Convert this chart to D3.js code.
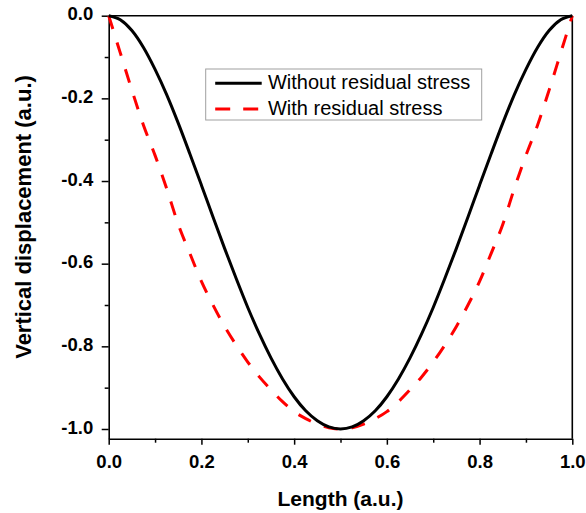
<!DOCTYPE html>
<html>
<head>
<meta charset="utf-8">
<script src="https://cdnjs.cloudflare.com/ajax/libs/d3/7.8.5/d3.min.js"></script>
<style>
  body { margin: 0; background: #fff; }
  svg text { font-family: Arial, "Liberation Sans", sans-serif; }
</style>
</head>
<body>
<script>
// positions along the beam (a.u.)
var lengthPts = [0, 0.025, 0.05, 0.075, 0.1, 0.125, 0.15, 0.175, 0.2, 0.225, 0.25,
  0.275, 0.3, 0.325, 0.35, 0.375, 0.4, 0.425, 0.45, 0.475, 0.5,
  0.525, 0.55, 0.575, 0.6, 0.625, 0.65, 0.675, 0.7, 0.725, 0.75,
  0.775, 0.8, 0.825, 0.85, 0.875, 0.9, 0.925, 0.95, 0.975, 1];

var withoutStress = [0, -0.010, -0.036, -0.077, -0.130, -0.191, -0.260, -0.334, -0.410, -0.487, -0.563,
  -0.636, -0.706, -0.770, -0.828, -0.879, -0.922, -0.956, -0.980, -0.995, -1.0,
  -0.995, -0.980, -0.956, -0.922, -0.879, -0.828, -0.770, -0.706, -0.636, -0.563,
  -0.487, -0.410, -0.334, -0.260, -0.191, -0.130, -0.077, -0.036, -0.010, 0];

var withStress = [0, -0.090, -0.180, -0.265, -0.338, -0.418, -0.505, -0.575, -0.643, -0.700, -0.752,
  -0.797, -0.838, -0.874, -0.905, -0.934, -0.958, -0.975, -0.988, -0.997, -1.0,
  -0.997, -0.988, -0.975, -0.958, -0.934, -0.905, -0.874, -0.838, -0.797, -0.752,
  -0.700, -0.643, -0.575, -0.505, -0.418, -0.338, -0.265, -0.180, -0.090, 0];

var xTicks = [0, 0.2, 0.4, 0.6, 0.8, 1.0];
var xMinor = [0.1, 0.3, 0.5, 0.7, 0.9];
var yTicks = [0, -0.2, -0.4, -0.6, -0.8, -1.0];
var yMinor = [-0.1, -0.3, -0.5, -0.7, -0.9];
var seriesNames = ["Without residual stress", "With residual stress"];

var W = 586, H = 513,
    m = { left: 108.7, top: 15.7, right: 13.7, bottom: 74.3 },
    iw = W - m.left - m.right,
    ih = H - m.top - m.bottom;

var svg = d3.select("body").append("svg")
  .attr("width", W)
  .attr("height", H);

var g = svg.append("g").attr("transform", "translate(" + m.left + "," + m.top + ")");

var x = d3.scaleLinear().domain([0, 1]).range([0, iw]);
var y = d3.scaleLinear().domain([-1.0235, 0]).range([ih, 0]);

// frame top / right
g.append("line").attr("x1", 0).attr("x2", iw).attr("y1", 0).attr("y2", 0)
  .attr("stroke", "#000").attr("stroke-width", 1.6);
g.append("line").attr("x1", iw).attr("x2", iw).attr("y1", 0).attr("y2", ih)
  .attr("stroke", "#000").attr("stroke-width", 1.6);

// minor ticks
g.append("g").attr("transform", "translate(0," + ih + ")")
  .call(d3.axisBottom(x).tickValues(xMinor).tickSize(4).tickFormat(""))
  .call(function(s) { s.select(".domain").remove(); });
g.append("g")
  .call(d3.axisLeft(y).tickValues(yMinor).tickSize(4).tickFormat(""))
  .call(function(s) { s.select(".domain").remove(); });

var xAxis = g.append("g").attr("transform", "translate(0," + ih + ")")
  .call(d3.axisBottom(x).tickValues(xTicks).tickSize(6).tickSizeOuter(0).tickPadding(10.5)
    .tickFormat(d3.format(".1f")));
var yAxis = g.append("g")
  .call(d3.axisLeft(y).tickValues(yTicks).tickSize(7).tickSizeOuter(0).tickPadding(8.5)
    .tickFormat(function(d) { return d === 0 ? "0.0" : d3.format(".1f")(d).replace("−", "-"); }));

[xAxis, yAxis].forEach(function(a) {
  a.selectAll("text").attr("font-size", "18.5px").attr("font-weight", "bold")
    .attr("fill", "#000").style("font-family", "Arial, 'Liberation Sans', sans-serif");
});
yAxis.selectAll("text").attr("dy", "0.22em");
g.selectAll(".domain").attr("stroke-width", 1.6);
g.selectAll(".tick line").attr("stroke-width", 1.5);

// curves
var line = function(vals) {
  return d3.line()
    .x(function(d, i) { return x(lengthPts[i]); })
    .y(function(d) { return y(d); })
    .curve(d3.curveMonotoneX)(vals);
};

g.append("path").attr("d", line(withStress))
  .attr("fill", "none").attr("stroke", "#ff0000").attr("stroke-width", 3)
  .attr("stroke-dasharray", "14,14");
g.append("path").attr("d", line(withoutStress))
  .attr("fill", "none").attr("stroke", "#000").attr("stroke-width", 3);

// legend
var lg = svg.append("g").attr("transform", "translate(205.7,69)");
lg.append("rect").attr("width", 276).attr("height", 51)
  .attr("fill", "#fff").attr("stroke", "#a0a0a0").attr("stroke-width", 1);
lg.append("line").attr("x1", 9.5).attr("x2", 56).attr("y1", 14.3).attr("y2", 14.3)
  .attr("stroke", "#000").attr("stroke-width", 3);
lg.append("line").attr("x1", 9.5).attr("x2", 53).attr("y1", 40).attr("y2", 40)
  .attr("stroke", "#ff0000").attr("stroke-width", 3).attr("stroke-dasharray", "15,13");
lg.selectAll("text.lbl").data(seriesNames).enter().append("text")
  .attr("class", "lbl")
  .attr("x", 62.3)
  .attr("y", function(d, i) { return 20 + i * 26; })
  .attr("font-size", "20px")
  .text(function(d) { return d; });

// axis titles
svg.append("text")
  .attr("x", m.left + iw / 2).attr("y", 505.5)
  .attr("text-anchor", "middle").attr("font-size", "21px").attr("font-weight", "bold")
  .text("Length (a.u.)");
svg.append("text")
  .attr("transform", "translate(31,217) rotate(-90)")
  .attr("text-anchor", "middle").attr("font-size", "22px").attr("font-weight", "bold")
  .text("Vertical displacement (a.u.)");
</script>
</body>
</html>
